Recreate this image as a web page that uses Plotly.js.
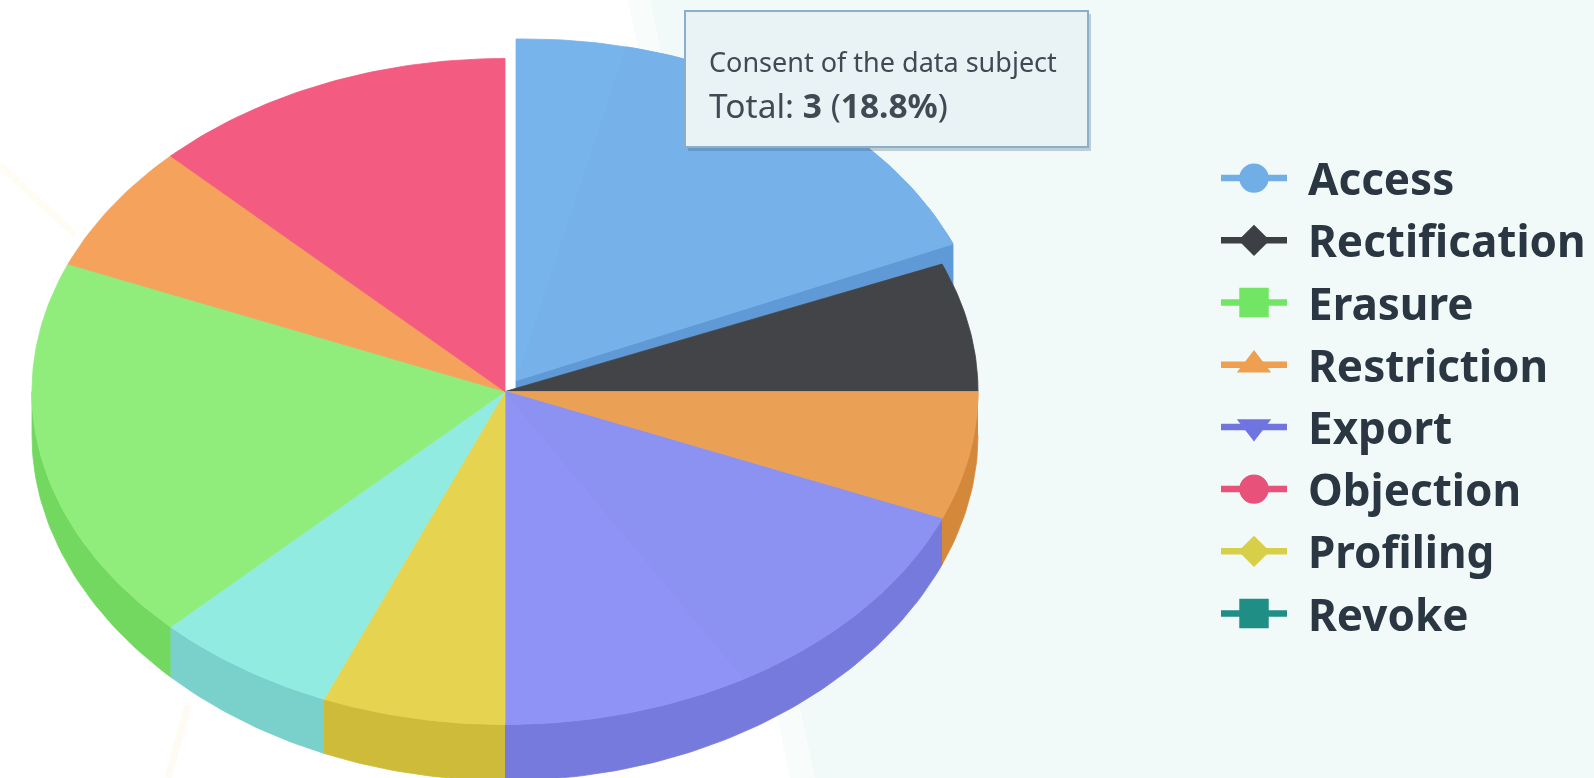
<!DOCTYPE html>
<html>
<head>
<meta charset="utf-8">
<script src="https://cdn.plot.ly/plotly-3.0.1.min.js"></script>
<style>
html,body{margin:0;padding:0;background:#fff;overflow:hidden}
#chart{width:1594px;height:778px;filter:blur(0.6px)}
</style>
</head>
<body>
<div id="chart"></div>
<script>
// Data (clockwise from 12 o'clock)
const sliceValues = [3, 1, 1, 3, 1, 1, 3, 1, 2];
const sliceColors = ['#78b4ec', '#434448', '#eba155', '#8f93f5', '#e6d34f', '#92ebe1', '#90ed7b', '#f4a25c', '#f45b80'];
const sideColors  = ['#5f9ad6', '#333438', '#d4883a', '#757adc', '#cfbb3a', '#7ad0ca', '#72d85f', '#d4883a', '#c9486a'];
const legendNames   = ['Access', 'Rectification', 'Erasure', 'Restriction', 'Export', 'Objection', 'Profiling', 'Revoke'];
const legendColors  = ['#72aee6', '#3c3f44', '#72e664', '#ee9f50', '#7074e0', '#e8527a', '#d8cf48', '#1f8f86'];
const legendSymbols = ['circle', 'diamond', 'square', 'triangle-up', 'triangle-down', 'circle', 'diamond', 'square'];
const symbolScale = {circle: 1.55, square: 1.55, diamond: 1.25, 'triangle-up': 1.4, 'triangle-down': 1.4};

// Projection of the unit pie onto the page
const W = 1594, H = 778, CX = 505, CY = 391.5, RX = 473, RY = 333;
const wallDepth = t => (44 + 12 * Math.cos(t) * Math.cos(t)) / RY;
const pulled = {index: 0, dx: 11 / RX, dy: 11 / RY, sy: 341.5 / RY, shear: 6.5 / RY};
// Subtle tonal areas inside two slices: [slice, from, to (share of the slice), colour]
const tones = [[0, 0.2, 1, '#76b2e9'], [3, 0, 0.55, '#8b92f1']];

const total = sliceValues.reduce((a, b) => a + b, 0);
const arc = (a, b, f) => {
  const xs = [], ys = [], n = Math.max(2, Math.ceil((b - a) * 60));
  for (let i = 0; i <= n; i++) {
    const t = a + (b - a) * i / n, q = f(t);
    xs.push(q[0]); ys.push(q[1]);
  }
  return [xs, ys];
};
const polygon = (xs, ys, color) => ({
  type: 'scatter', mode: 'lines', x: xs, y: ys, fill: 'toself', fillcolor: color,
  line: {color: color, width: 0.8}, hoverinfo: 'skip', showlegend: false
});

const walls = [], faces = [];
let cum = 0;
sliceValues.forEach((v, i) => {
  const a = cum / total * 2 * Math.PI, b = (cum + v) / total * 2 * Math.PI;
  cum += v;
  const p = i === pulled.index;
  const ox = p ? pulled.dx : 0, oy = p ? pulled.dy : 0, sy = p ? pulled.sy : 1, sh = p ? pulled.shear : 0;
  const rim = t => [ox + Math.sin(t), oy + sy * Math.cos(t) + sh * Math.sin(t)];
  const [ax, ay] = arc(a, b, rim);
  faces.push(polygon([ox, ...ax, ox], [oy, ...ay, oy], sliceColors[i]));
  tones.filter(t => t[0] === i).forEach(t => {
    const [sx, sy2] = arc(a + (b - a) * t[1], a + (b - a) * t[2], rim);
    faces.push(polygon([ox, ...sx, ox], [oy, ...sy2, oy], t[3]));
  });
  if (p) {
    // radial wall visible under the pulled slice
    const ex = ax[ax.length - 1], ey = ay[ay.length - 1], d = 52 / RY;
    walls.unshift(polygon([ox, ex, ex, ox, ox], [oy, ey, ey - d, oy - d, oy], sideColors[i]));
  } else {
    const s = Math.max(a, Math.PI / 2), e = Math.min(b, 3 * Math.PI / 2);
    if (s < e) {
      const [tx, ty] = arc(s, e, rim);
      const [bx, by] = arc(s, e, t => [Math.sin(t), Math.cos(t) - wallDepth(t)]);
      walls.push(polygon([...tx, ...bx.reverse()], [...ty, ...by.reverse()], sideColors[i]));
    }
  }
});

const legendTraces = legendNames.map((n, i) => ({
  type: 'scatter', mode: 'lines+markers', name: n, x: [null], y: [null], legendgroup: n,
  line: {color: legendColors[i], width: 6.5},
  marker: {color: legendColors[i], symbol: legendSymbols[i], size: 16, line: {color: legendColors[i], width: 3}},
  hoverinfo: 'skip'
}));

const px = p => p / W, py = p => 1 - p / H;
const FONT = '"Noto Sans", Lato, sans-serif';
const layout = {
  width: W, height: H, margin: {l: 0, r: 0, t: 0, b: 0},
  paper_bgcolor: '#ffffff', plot_bgcolor: 'rgba(0,0,0,0)', hovermode: false, dragmode: false,
  xaxis: {visible: false, fixedrange: true, range: [-CX / RX, (W - CX) / RX]},
  yaxis: {visible: false, fixedrange: true, range: [(CY - H) / RY, CY / RY]},
  legend: {x: 1216 / W, y: py(143), xanchor: 'left', yanchor: 'top', bgcolor: 'rgba(0,0,0,0)',
           font: {family: FONT, size: 44, color: '#2a3642', weight: 700},
           itemwidth: 66, entrywidth: 285, entrywidthmode: 'pixels',
           itemclick: false, itemdoubleclick: false, tracegroupgap: 2},
  shapes: [
    {type: 'path', xref: 'paper', yref: 'paper', layer: 'below', line: {width: 0}, fillcolor: '#f8fcfb',
     path: `M ${px(628)} ${py(0)} L ${px(790)} ${py(778)} L 1 0 L 1 1 Z`},
    {type: 'path', xref: 'paper', yref: 'paper', layer: 'below', line: {width: 0}, fillcolor: '#f1faf8',
     path: `M ${px(650)} ${py(0)} L ${px(815)} ${py(778)} L 1 0 L 1 1 Z`},
    {type: 'line', xref: 'paper', yref: 'paper', layer: 'below', line: {color: '#fefcf3', width: 7},
     x0: px(0), y0: py(165), x1: px(75), y1: py(235)},
    {type: 'line', xref: 'paper', yref: 'paper', layer: 'below', line: {color: '#fefbf3', width: 7},
     x0: px(188), y0: py(705), x1: px(168), y1: py(778)},
    {type: 'rect', xref: 'paper', yref: 'paper', layer: 'above', line: {width: 0}, fillcolor: 'rgba(60,90,120,0.28)',
     x0: px(688), y0: py(14), x1: px(1091), y1: py(151)},
    {type: 'rect', xref: 'paper', yref: 'paper', layer: 'above', line: {color: '#8aafca', width: 2}, fillcolor: '#e9f3f5',
     x0: px(685), y0: py(11), x1: px(1088), y1: py(147)}
  ],
  annotations: [
    {xref: 'paper', yref: 'paper', x: px(707), y: py(61), xanchor: 'left', yanchor: 'middle', showarrow: false,
     text: 'Consent of the data subject', font: {family: FONT, size: 27, color: '#3f4a54'}},
    {xref: 'paper', yref: 'paper', x: px(707), y: py(105), xanchor: 'left', yanchor: 'middle', showarrow: false,
     text: 'Total: <b>3</b> (<b>18.8%</b>)', font: {family: FONT, size: 33.5, color: '#3f4a54'}}
  ]
};

Plotly.newPlot('chart', [...walls, ...faces, ...legendTraces], layout, {displayModeBar: false, responsive: false}).then(() => {
  document.querySelectorAll('#chart .legend path.scatterpts').forEach((el, i) => {
    el.setAttribute('transform', (el.getAttribute('transform') || '') + ` scale(${symbolScale[legendSymbols[i]]})`);
  });
  document.querySelectorAll('#chart .legend .legendtext').forEach(el => {
    el.setAttribute('x', (parseFloat(el.getAttribute('x')) || 0) + 16);
  });
  document.querySelectorAll('#chart .legend [clip-path]').forEach(el => el.removeAttribute('clip-path'));
  document.querySelectorAll('#chart .legend .scrollbox').forEach(el => { el.style.clipPath = 'none'; });
});
</script>
</body>
</html>
